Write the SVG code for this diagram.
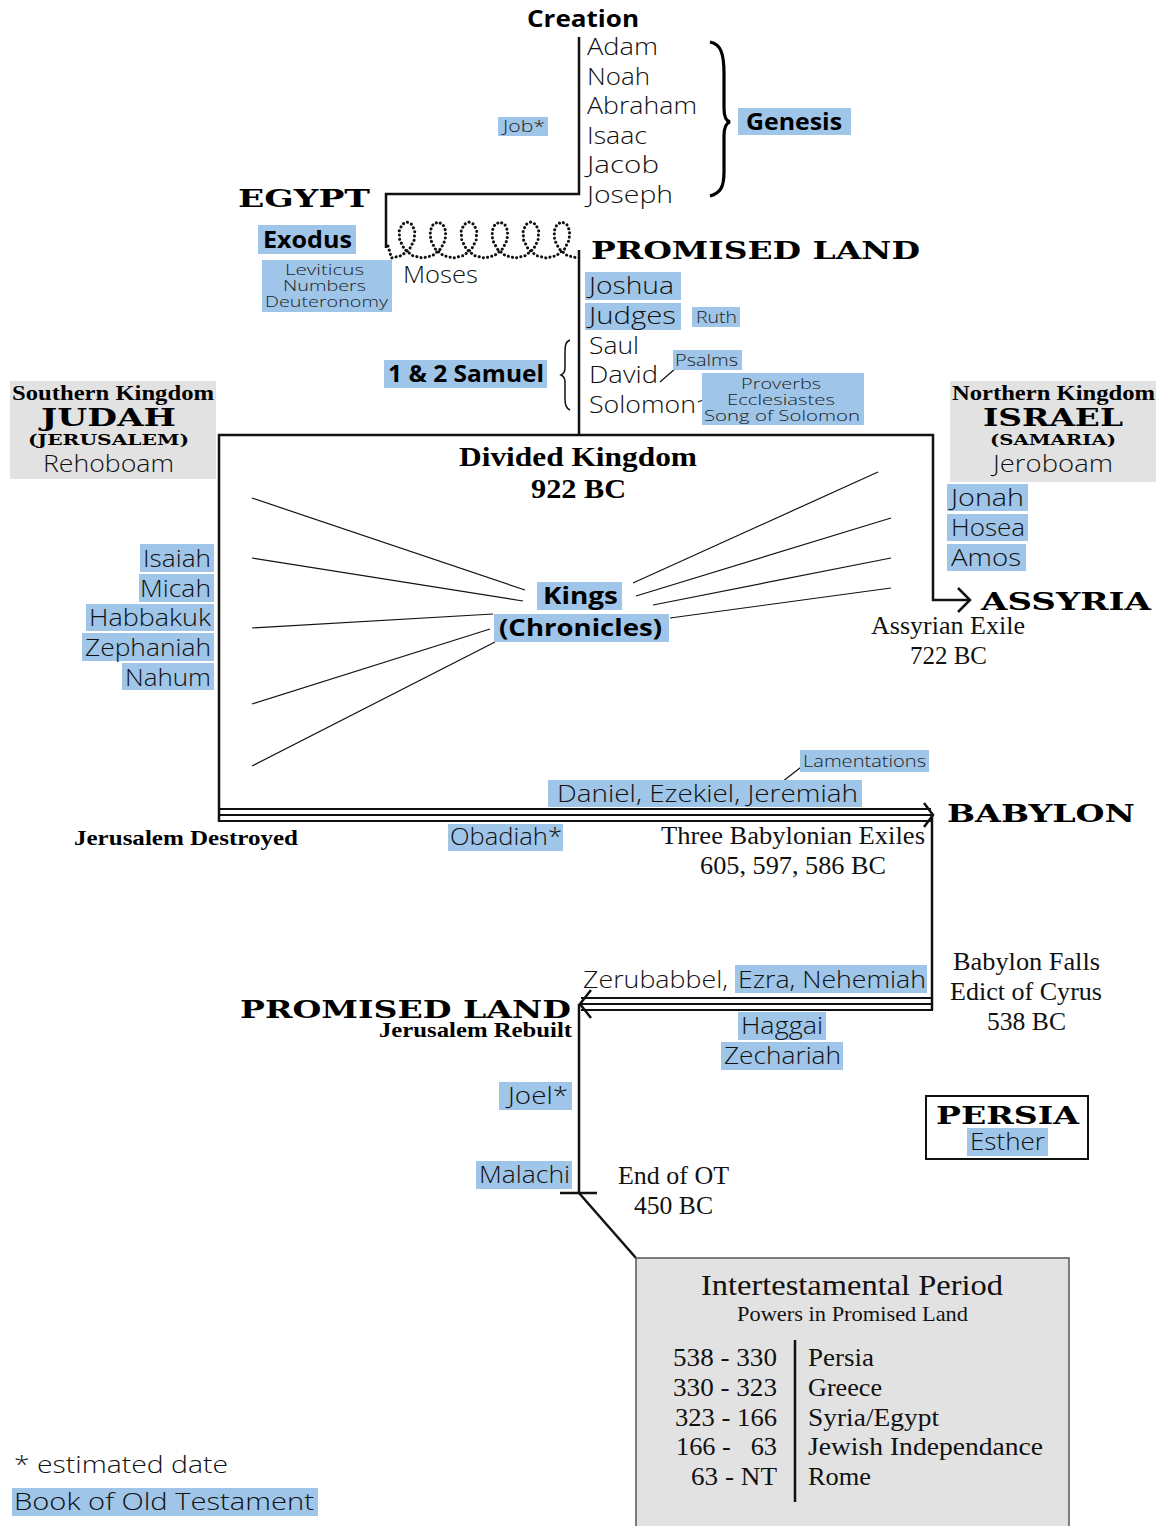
<svg xmlns="http://www.w3.org/2000/svg" width="1162" height="1526" viewBox="0 0 1162 1526">
<style>
.s{font-family:"Open Sans","Lato",sans-serif;font-weight:300;font-size:23px;fill:#111}
.ss{font-family:"Open Sans","Lato",sans-serif;font-weight:300;font-size:16px;fill:#222}
.ss15{font-family:"Open Sans","Lato",sans-serif;font-weight:300;font-size:15px;fill:#222}
.sb{font-family:"Open Sans","Lato",sans-serif;font-weight:700;font-size:23px;fill:#000}
.w{font-family:"DejaVu Serif","Liberation Serif",serif;font-weight:700;font-size:25px;fill:#000}
.w24{font-family:"DejaVu Serif","Liberation Serif",serif;font-weight:700;font-size:24px;fill:#000}
.w14{font-family:"DejaVu Serif","Liberation Serif",serif;font-weight:700;font-size:14px;fill:#000}
.sf{font-family:"Liberation Serif","DejaVu Serif",serif;font-size:25px;fill:#111}
.sf20{font-family:"Liberation Serif","DejaVu Serif",serif;font-size:21px;fill:#111}
.sf30{font-family:"Liberation Serif","DejaVu Serif",serif;font-size:30px;fill:#111}
.sfb{font-family:"Liberation Serif","DejaVu Serif",serif;font-weight:700;font-size:21px;fill:#000}
.sfb26{font-family:"Liberation Serif","DejaVu Serif",serif;font-weight:700;font-size:27px;fill:#000}
.hl{fill:#9fc5e8}
.ln{stroke:#111;stroke-width:2.5;fill:none}
.th{stroke:#111;stroke-width:1.2;fill:none}
.gray{fill:#e2e2e2}
</style>
<rect width="1162" height="1526" fill="#fff"/>

<g id="connectors">
  <path class="ln" d="M579,37 V194 H386 V248"/>
  <polyline fill="none" stroke="#111" stroke-width="3" stroke-dasharray="0.1 4.2" stroke-linecap="round" stroke-linejoin="round" points="388,246 391.5,258 401.6,255.6 409.6,249 414.2,240 414.8,231 411.9,224.4 407.0,222 402.1,224.4 399.2,231 399.7,240 404.3,249 412.4,255.6 422.5,258 432.6,255.6 440.6,249 445.2,240 445.8,231 442.9,224.4 438.0,222 433.1,224.4 430.2,231 430.7,240 435.3,249 443.4,255.6 453.5,258 463.6,255.6 471.6,249 476.2,240 476.8,231 473.9,224.4 469.0,222 464.1,224.4 461.2,231 461.7,240 466.3,249 474.4,255.6 484.4,258 494.5,255.6 502.5,249 507.1,240 507.7,231 504.8,224.4 499.9,222 495.0,224.4 492.1,231 492.6,240 497.2,249 505.3,255.6 515.4,258 525.5,255.6 533.5,249 538.1,240 538.7,231 535.8,224.4 530.9,222 526.0,224.4 523.1,231 523.6,240 528.2,249 536.3,255.6 546.4,258 556.5,255.6 564.5,249 569.1,240 569.7,231 566.8,224.4 561.9,222 557.0,224.4 554.1,231 554.6,240 559.2,249 567.3,255.6 577.4,258"/>
  <path class="ln" d="M579,250 V436"/>
  <path class="ln" d="M219,822 V435 H933 V600 H970"/>
  <path class="ln" d="M958,588 L970,600 L958,612"/>
  <g class="th">
    <path d="M252,498 L525,590"/>
    <path d="M252,558 L523,601"/>
    <path d="M252,628 L493,614"/>
    <path d="M252,704 L490,629"/>
    <path d="M252,766 L495,642"/>
    <path d="M878,472 L633,583"/>
    <path d="M891,518 L636,596"/>
    <path d="M891,558 L653,605"/>
    <path d="M891,588 L670,618"/>
    <path d="M660,382 L676,368"/>
    <path d="M698,402 L718,394"/>
    <path d="M782,782 L805,764"/>
  </g>
  <g stroke="#111" stroke-width="2.2" fill="none">
    <path d="M219,809 H931"/>
    <path d="M219,815 H931"/>
    <path d="M219,821 H931"/>
  </g>
  <path class="ln" d="M924,803 L933,815 L924,827"/>
  <path class="ln" d="M932,815 V1010"/>
  <g stroke="#111" stroke-width="2.2" fill="none">
    <path d="M581,998 H933"/>
    <path d="M581,1004 H933"/>
    <path d="M581,1010 H933"/>
  </g>
  <path class="ln" d="M591,990 L580,1004 L591,1018"/>
  <path class="ln" d="M579,1004 V1194"/>
  <path class="ln" d="M560,1193 H597"/>
  <path class="ln" d="M579,1193 L636,1258"/>
</g>

<g id="creation">
  <text class="sb" x="527" y="27" style="font-size:24px" textLength="112" lengthAdjust="spacingAndGlyphs">Creation</text>
  <text class="s" x="587" y="55" textLength="71" lengthAdjust="spacingAndGlyphs">Adam</text>
  <text class="s" x="587" y="85" textLength="63" lengthAdjust="spacingAndGlyphs">Noah</text>
  <text class="s" x="587" y="114" textLength="110" lengthAdjust="spacingAndGlyphs">Abraham</text>
  <text class="s" x="587" y="144" textLength="60" lengthAdjust="spacingAndGlyphs">Isaac</text>
  <text class="s" x="587" y="173" textLength="72" lengthAdjust="spacingAndGlyphs">Jacob</text>
  <text class="s" x="587" y="203" textLength="86" lengthAdjust="spacingAndGlyphs">Joseph</text>
  <path d="M710,42 C721,44 724,54 724,74 L724,108 C724,117 726,121 730,122 C726,123 724,127 724,136 L724,172 C724,188 720,193 710,196" fill="none" stroke="#000" stroke-width="3.2"/>
</g>
<g id="genesis">
  <rect class="hl" x="738" y="108" width="113" height="27"/>
  <text class="sb" x="746" y="130" textLength="96" lengthAdjust="spacingAndGlyphs">Genesis</text>
</g>
<g id="job">
  <rect class="hl" x="498" y="117" width="50" height="19"/>
  <text class="ss" x="503" y="132" textLength="42" lengthAdjust="spacingAndGlyphs">Job*</text>
</g>

<g id="egypt">
  <text class="w" x="238" y="207" textLength="132" lengthAdjust="spacingAndGlyphs">EGYPT</text>
  <rect class="hl" x="258" y="225" width="98" height="29"/>
  <text class="sb" x="263" y="248" textLength="89" lengthAdjust="spacingAndGlyphs">Exodus</text>
  <rect class="hl" x="262" y="260" width="130" height="52"/>
  <text class="ss15" x="285" y="275" textLength="79" lengthAdjust="spacingAndGlyphs">Leviticus</text>
  <text class="ss15" x="283" y="291" textLength="83" lengthAdjust="spacingAndGlyphs">Numbers</text>
  <text class="ss15" x="265" y="307" textLength="123" lengthAdjust="spacingAndGlyphs">Deuteronomy</text>
  <text class="s" x="403" y="283" textLength="75" lengthAdjust="spacingAndGlyphs">Moses</text>
</g>

<g id="promised-land">
  <text class="w" x="591" y="259" textLength="329" lengthAdjust="spacingAndGlyphs">PROMISED LAND</text>
  <rect class="hl" x="585" y="272" width="96" height="28"/>
  <text class="s" x="589" y="294" textLength="85" lengthAdjust="spacingAndGlyphs">Joshua</text>
  <rect class="hl" x="585" y="303" width="96" height="27"/>
  <text class="s" x="589" y="324" textLength="87" lengthAdjust="spacingAndGlyphs">Judges</text>
  <rect class="hl" x="692" y="307" width="48" height="20"/>
  <text class="ss" x="696" y="323" textLength="41" lengthAdjust="spacingAndGlyphs">Ruth</text>
  <text class="s" x="589" y="354" textLength="50" lengthAdjust="spacingAndGlyphs">Saul</text>
  <text class="s" x="589" y="383" textLength="69" lengthAdjust="spacingAndGlyphs">David</text>
  <text class="s" x="589" y="413" textLength="107" lengthAdjust="spacingAndGlyphs">Solomon</text>
  <rect class="hl" x="673" y="350" width="69" height="20"/>
  <text class="ss" x="675" y="366" textLength="63" lengthAdjust="spacingAndGlyphs">Psalms</text>
  <rect class="hl" x="702" y="373" width="162" height="52"/>
  <text class="ss15" x="741" y="389" textLength="80" lengthAdjust="spacingAndGlyphs">Proverbs</text>
  <text class="ss15" x="727" y="405" textLength="108" lengthAdjust="spacingAndGlyphs">Ecclesiastes</text>
  <text class="ss15" x="704" y="421" textLength="156" lengthAdjust="spacingAndGlyphs">Song of Solomon</text>
  <path d="M570,340 C565,342 565,346 565,355 L565,368 C565,372 563,374 561,375 C563,376 565,378 565,382 L565,398 C565,405 566,408 570,410" fill="none" stroke="#111" stroke-width="1.5"/>
  <rect class="hl" x="384" y="360" width="163" height="28"/>
  <text class="sb" x="388" y="382" textLength="156" lengthAdjust="spacingAndGlyphs">1 &amp; 2 Samuel</text>
</g>

<g id="judah">
  <rect class="gray" x="10" y="381" width="206" height="98"/>
  <text class="sfb" x="12" y="400" textLength="202" lengthAdjust="spacingAndGlyphs">Southern Kingdom</text>
  <text class="w24" x="41" y="426" textLength="135" lengthAdjust="spacingAndGlyphs">JUDAH</text>
  <text class="w14" x="28" y="445" textLength="161" lengthAdjust="spacingAndGlyphs">(JERUSALEM)</text>
  <text class="s" x="43" y="472" textLength="131" lengthAdjust="spacingAndGlyphs">Rehoboam</text>
</g>
<g id="israel">
  <rect class="gray" x="950" y="381" width="206" height="101"/>
  <text class="sfb" x="952" y="400" textLength="203" lengthAdjust="spacingAndGlyphs">Northern Kingdom</text>
  <text class="w24" x="983" y="426" textLength="140" lengthAdjust="spacingAndGlyphs">ISRAEL</text>
  <text class="w14" x="990" y="445" textLength="126" lengthAdjust="spacingAndGlyphs">(SAMARIA)</text>
  <text class="s" x="993" y="472" textLength="120" lengthAdjust="spacingAndGlyphs">Jeroboam</text>
</g>

<g id="divided-kingdom">
  <text class="sfb26" x="459" y="466" textLength="238" lengthAdjust="spacingAndGlyphs">Divided Kingdom</text>
  <text class="sfb26" x="531" y="498" textLength="95" lengthAdjust="spacingAndGlyphs">922 BC</text>
  <rect class="hl" x="537" y="582" width="85" height="28"/>
  <text class="sb" x="543" y="604" textLength="75" lengthAdjust="spacingAndGlyphs">Kings</text>
  <rect class="hl" x="494" y="614" width="175" height="28"/>
  <text class="sb" x="499" y="636" textLength="163" lengthAdjust="spacingAndGlyphs">(Chronicles)</text>
</g>

<g id="judah-prophets">
  <rect class="hl" x="140" y="544" width="74" height="28"/>
  <text class="s" x="143" y="567" textLength="68" lengthAdjust="spacingAndGlyphs">Isaiah</text>
  <rect class="hl" x="139" y="574" width="75" height="28"/>
  <text class="s" x="140" y="597" textLength="71" lengthAdjust="spacingAndGlyphs">Micah</text>
  <rect class="hl" x="86" y="604" width="128" height="27"/>
  <text class="s" x="89" y="626" textLength="122" lengthAdjust="spacingAndGlyphs">Habbakuk</text>
  <rect class="hl" x="82" y="633" width="132" height="28"/>
  <text class="s" x="85" y="656" textLength="126" lengthAdjust="spacingAndGlyphs">Zephaniah</text>
  <rect class="hl" x="122" y="663" width="92" height="27"/>
  <text class="s" x="125" y="686" textLength="86" lengthAdjust="spacingAndGlyphs">Nahum</text>
</g>
<g id="israel-prophets">
  <rect class="hl" x="947" y="484" width="81" height="27"/>
  <text class="s" x="951" y="506" textLength="73" lengthAdjust="spacingAndGlyphs">Jonah</text>
  <rect class="hl" x="947" y="514" width="81" height="27"/>
  <text class="s" x="951" y="536" textLength="74" lengthAdjust="spacingAndGlyphs">Hosea</text>
  <rect class="hl" x="947" y="544" width="79" height="27"/>
  <text class="s" x="951" y="566" textLength="70" lengthAdjust="spacingAndGlyphs">Amos</text>
</g>

<g id="assyria">
  <text class="w" x="981" y="610" textLength="170" lengthAdjust="spacingAndGlyphs">ASSYRIA</text>
  <text class="sf" x="871" y="634" textLength="154" lengthAdjust="spacingAndGlyphs">Assyrian Exile</text>
  <text class="sf" x="910" y="664" textLength="77" lengthAdjust="spacingAndGlyphs">722 BC</text>
</g>

<g id="babylon">
  <rect class="hl" x="800" y="750" width="129" height="22"/>
  <text class="ss" x="803" y="767" textLength="123" lengthAdjust="spacingAndGlyphs">Lamentations</text>
  <rect class="hl" x="548" y="780" width="314" height="27"/>
  <text class="s" x="557" y="802" textLength="301" lengthAdjust="spacingAndGlyphs">Daniel, Ezekiel, Jeremiah</text>
  <text class="w" x="947" y="822" textLength="188" lengthAdjust="spacingAndGlyphs">BABYLON</text>
  <text class="sfb" x="74" y="845" textLength="224" lengthAdjust="spacingAndGlyphs">Jerusalem Destroyed</text>
  <rect class="hl" x="448" y="824" width="115" height="27"/>
  <text class="s" x="450" y="845" textLength="112" lengthAdjust="spacingAndGlyphs">Obadiah*</text>
  <text class="sf" x="661" y="844" textLength="264" lengthAdjust="spacingAndGlyphs">Three Babylonian Exiles</text>
  <text class="sf" x="700" y="874" textLength="186" lengthAdjust="spacingAndGlyphs">605, 597, 586 BC</text>
</g>

<g id="return">
  <text class="sf" x="953" y="970" textLength="147" lengthAdjust="spacingAndGlyphs">Babylon Falls</text>
  <text class="sf" x="950" y="1000" textLength="152" lengthAdjust="spacingAndGlyphs">Edict of Cyrus</text>
  <text class="sf" x="987" y="1030" textLength="79" lengthAdjust="spacingAndGlyphs">538 BC</text>
  <rect class="hl" x="735" y="965" width="192" height="28"/>
  <text class="s" x="583" y="988" textLength="145" lengthAdjust="spacingAndGlyphs">Zerubabbel,</text>
  <text class="s" x="738" y="988" textLength="188" lengthAdjust="spacingAndGlyphs">Ezra, Nehemiah</text>
  <rect class="hl" x="738" y="1012" width="88" height="28"/>
  <text class="s" x="741" y="1034" textLength="82" lengthAdjust="spacingAndGlyphs">Haggai</text>
  <rect class="hl" x="721" y="1042" width="122" height="28"/>
  <text class="s" x="724" y="1064" textLength="117" lengthAdjust="spacingAndGlyphs">Zechariah</text>
</g>

<g id="promised-land-2">
  <text class="w" x="240" y="1018" textLength="331" lengthAdjust="spacingAndGlyphs">PROMISED LAND</text>
  <text class="sfb" x="379" y="1037" textLength="193" lengthAdjust="spacingAndGlyphs">Jerusalem Rebuilt</text>
  <rect class="hl" x="499" y="1082" width="73" height="28"/>
  <text class="s" x="508" y="1104" textLength="60" lengthAdjust="spacingAndGlyphs">Joel*</text>
  <rect class="hl" x="476" y="1161" width="96" height="28"/>
  <text class="s" x="479" y="1183" textLength="91" lengthAdjust="spacingAndGlyphs">Malachi</text>
  <text class="sf" x="618" y="1184" textLength="111" lengthAdjust="spacingAndGlyphs">End of OT</text>
  <text class="sf" x="634" y="1214" textLength="79" lengthAdjust="spacingAndGlyphs">450 BC</text>
</g>

<g id="persia">
  <rect x="926" y="1096" width="162" height="63" fill="#fff" stroke="#111" stroke-width="2"/>
  <text class="w" x="936" y="1124" textLength="143" lengthAdjust="spacingAndGlyphs">PERSIA</text>
  <rect class="hl" x="967" y="1128" width="81" height="28"/>
  <text class="s" x="970" y="1150" textLength="75" lengthAdjust="spacingAndGlyphs">Esther</text>
</g>

<g id="intertestamental">
  <rect class="gray" x="636" y="1258" width="433" height="280" stroke="#555" stroke-width="1.5"/>
  <text class="sf30" x="701" y="1295" textLength="302" lengthAdjust="spacingAndGlyphs">Intertestamental Period</text>
  <text class="sf20" x="737" y="1321" textLength="231" lengthAdjust="spacingAndGlyphs">Powers in Promised Land</text>
  <path d="M795,1340 V1502" stroke="#111" stroke-width="2.5"/>
  <text class="sf" x="673" y="1366" textLength="104" lengthAdjust="spacingAndGlyphs">538 - 330</text>
  <text class="sf" x="673" y="1396" textLength="104" lengthAdjust="spacingAndGlyphs">330 - 323</text>
  <text class="sf" x="675" y="1426" textLength="102" lengthAdjust="spacingAndGlyphs">323 - 166</text>
  <text class="sf" x="676" y="1455" textLength="101" lengthAdjust="spacingAndGlyphs" xml:space="preserve">166 -   63</text>
  <text class="sf" x="691" y="1485" textLength="86" lengthAdjust="spacingAndGlyphs">63 - NT</text>
  <text class="sf" x="808" y="1366" textLength="66" lengthAdjust="spacingAndGlyphs">Persia</text>
  <text class="sf" x="808" y="1396" textLength="74" lengthAdjust="spacingAndGlyphs">Greece</text>
  <text class="sf" x="808" y="1426" textLength="131" lengthAdjust="spacingAndGlyphs">Syria/Egypt</text>
  <text class="sf" x="808" y="1455" textLength="235" lengthAdjust="spacingAndGlyphs">Jewish Independance</text>
  <text class="sf" x="808" y="1485" textLength="63" lengthAdjust="spacingAndGlyphs">Rome</text>
</g>

<g id="legend">
  <text class="s" x="14" y="1473" textLength="214" lengthAdjust="spacingAndGlyphs">* estimated date</text>
  <rect class="hl" x="12" y="1488" width="306" height="28"/>
  <text class="s" x="14" y="1510" textLength="300" lengthAdjust="spacingAndGlyphs">Book of Old Testament</text>
</g>
</svg>
